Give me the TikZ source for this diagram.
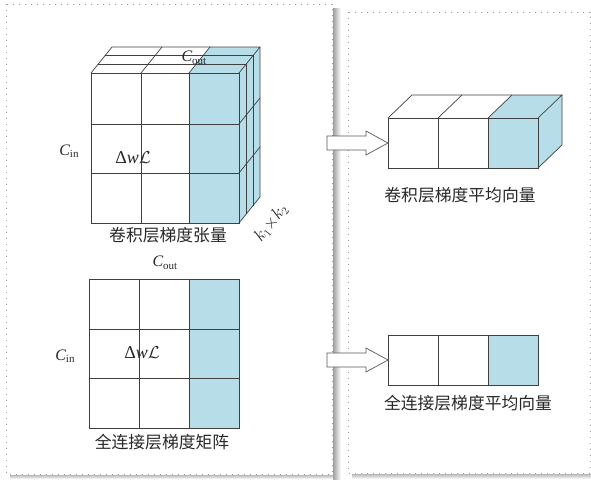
\documentclass[tikz,border=0pt]{standalone}
\usepackage{fontspec}
\setmainfont{Liberation Serif}
\newfontfamily\cjk{Noto Sans CJK SC}
\usetikzlibrary{calc}
\definecolor{cellblue}{RGB}{183,221,232}
\definecolor{edge}{RGB}{64,64,64}
\definecolor{txt}{RGB}{40,40,40}
\newcommand{\Cvar}[1]{\textit{C}\kern-0.3pt\raisebox{-0.35ex}{\fontsize{11}{11}\selectfont #1}}
\newcommand{\dwl}{\fontsize{18}{18}\selectfont Δ\textit{w}$\mathcal{L}$}
\begin{document}
\begin{tikzpicture}[x=1pt,y=-1pt,
  gl/.style={draw=edge,line width=0.7pt},
  frame/.style={draw=gray!80,line width=1pt,dash pattern=on 0.9pt off 5.1pt},
  cn/.style={font=\cjk\fontsize{16.8}{17}\selectfont,text=txt,inner sep=0pt},
  lab/.style={font=\fontsize{16}{16}\selectfont,text=txt,inner sep=0pt},
  barrow/.style={draw=gray!70!black,fill=white,line width=0.7pt}]
\useasboundingbox (0,0) rectangle (591,479);
% shadows
\shade[left color=gray!75,right color=white] (333,8) rectangle (341,479);
\shade[top color=gray!55,bottom color=white] (10,475) rectangle (333,479);
\shade[top color=gray!55,bottom color=white] (352,474) rectangle (591,479);
% frames
\draw[frame] (6,4) rectangle (332,474);
\draw[frame] (348,12) rectangle (590,473);

% ---------- convolution tensor ----------
\fill[white] (91,73) -- (112,47) -- (210,47) -- (189,73) -- cycle;
\fill[cellblue] (189,73) -- (210,47) -- (260,47) -- (239,73) -- cycle;
\fill[cellblue] (239,73) -- (260,47) -- (260,197) -- (239,223) -- cycle;
\fill[white] (91,73) rectangle (189,223);
\fill[cellblue] (189,73) rectangle (239,223);
% front grid
\draw[gl] (91,73) rectangle (239,223);
\draw[gl] (141,73) -- (141,223) (189,73) -- (189,223);
\draw[gl] (91,124) -- (239,124) (91,173) -- (239,173);
% top face
\draw[gl] (91,73) -- (112,47) -- (260,47) -- (239,73);
\draw[gl] (141,73) -- (162,47) (189,73) -- (210,47);
\draw[gl] (98,64.3) -- (246,64.3) -- (246,214.3);
\draw[gl] (105,55.7) -- (253,55.7) -- (253,205.7);
% right face
\draw[gl] (260,47) -- (260,197) -- (239,223);
\draw[gl] (239,124) -- (260,98) (239,173) -- (260,147);
% labels
\node[lab] (cout1) at (194,58) {\Cvar{out}};
\node[lab] (cin1) at (69,151) {\Cvar{in}};
\node[inner sep=0pt,text=txt] (dw1) at (133,158) {\dwl};
\node[cn] (t1) at (168,235) {卷积层梯度张量};
\node[inner sep=0pt,text=txt,rotate=52,font=\fontsize{16}{16}\selectfont] (k12) at (271,223) {$k_1{\times}k_2$};

% ---------- fully connected matrix ----------
\fill[white] (89,279) rectangle (189,428);
\fill[cellblue] (189,279) rectangle (239,428);
\draw[gl] (89,279) rectangle (239,428);
\draw[gl] (139,279) -- (139,428) (189,279) -- (189,428);
\draw[gl] (89,329) -- (239,329) (89,378) -- (239,378);
\node[lab] (cout2) at (165,263) {\Cvar{out}};
\node[lab] (cin2) at (65,356) {\Cvar{in}};
\node[inner sep=0pt,text=txt] (dw2) at (142,353) {\dwl};
\node[cn] (t2) at (162,442) {全连接层梯度矩阵};

% ---------- conv average vector ----------
\fill[white] (388,118) -- (412,95) -- (512,95) -- (488,118) -- cycle;
\fill[cellblue] (488,118) -- (512,95) -- (562,95) -- (538,118) -- cycle;
\fill[cellblue] (538,118) -- (562,95) -- (562,145) -- (538,168) -- cycle;
\fill[white] (388,118) rectangle (488,168);
\fill[cellblue] (488,118) rectangle (538,168);
\draw[gl] (388,118) rectangle (538,168);
\draw[gl] (438,118) -- (438,168) (488,118) -- (488,168);
\draw[gl] (388,118) -- (412,95) -- (562,95) -- (538,118);
\draw[gl] (438,118) -- (462,95) (488,118) -- (512,95);
\draw[gl] (562,95) -- (562,145) -- (538,168);
\coordinate (vecA) at (388,143);
\node[cn] (t3) at (460,195) {卷积层梯度平均向量};

% ---------- fc average vector ----------
\fill[white] (388,335) rectangle (488,385);
\fill[cellblue] (488,335) rectangle (538,385);
\draw[gl] (388,335) rectangle (538,385);
\draw[gl] (438,335) -- (438,385) (488,335) -- (488,385);
\coordinate (vecB) at (388,360);
\node[cn] (t4) at (468,403) {全连接层梯度平均向量};

% ---------- block arrows ----------
\foreach \tip in {vecA,vecB}{
  \draw[barrow] ($(\tip)+(-61,-7)$) -- ($(\tip)+(-22,-7)$) -- ($(\tip)+(-22,-12)$)
     -- (\tip) -- ($(\tip)+(-22,12)$) -- ($(\tip)+(-22,7)$) -- ($(\tip)+(-61,7)$) -- cycle;
}
\end{tikzpicture}
\end{document}
